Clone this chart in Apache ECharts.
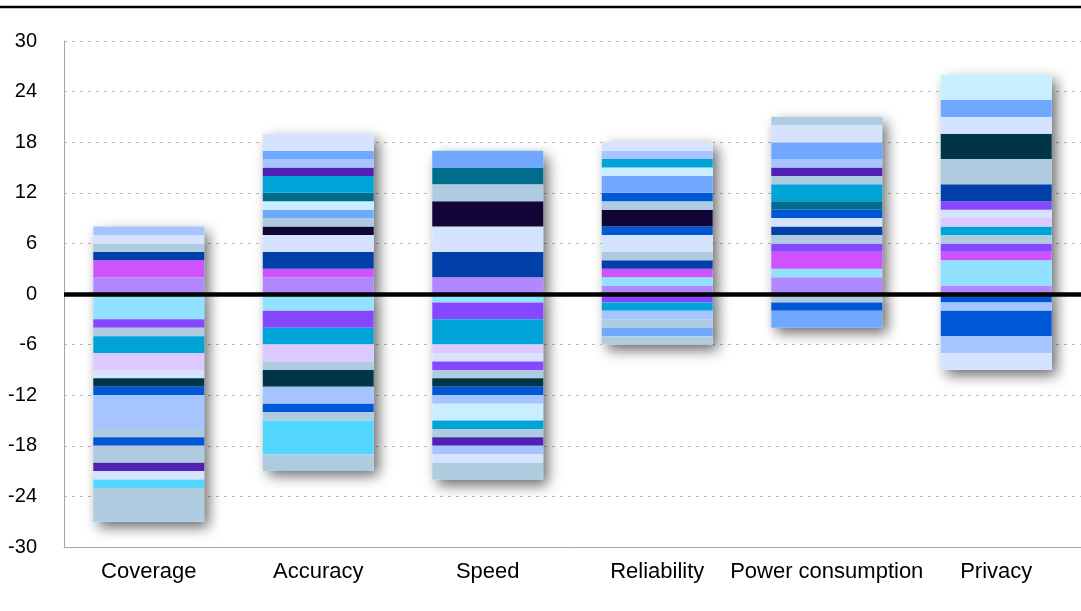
<!DOCTYPE html>
<html>
<head>
<meta charset="utf-8">
<title>Stacked contributions by attribute</title>
<script src="https://cdn.jsdelivr.net/npm/echarts@6/dist/echarts.min.js"></script>
<style>
  html, body { margin: 0; padding: 0; background: #ffffff; }
  #chart { width: 1081px; height: 611px; }
</style>
</head>
<body>
<div id="chart"></div>
<script>
// Attributes along the horizontal axis
const categories = ['Coverage', 'Accuracy', 'Speed', 'Reliability', 'Power consumption', 'Privacy'];

// Value-axis ticks
const yMin = -30;
const yMax = 30;
const yStep = 6;

// Segments above zero, one row per stacked series (from the axis outward),
// values per attribute in the order of `categories`
const upValues = [
  [2, 2, 2, 1, 2, 1],
  [0, 0, 0, 1, 1, 3],
  [2, 1, 0, 1, 2, 1],
  [0, 0, 0, 0, 1, 1],
  [0, 0, 0, 0, 1, 1],
  [1, 2, 3, 1, 1, 0],
  [1, 0, 0, 1, 0, 0],
  [1, 2, 3, 2, 1, 0],
  [0, 0, 0, 1, 1, 0],
  [0, 1, 3, 2, 0, 0],
  [0, 1, 2, 1, 0, 0],
  [0, 0, 0, 1, 0, 0],
  [0, 1, 0, 2, 0, 0],
  [0, 1, 0, 1, 0, 0],
  [0, 1, 2, 0, 1, 0],
  [0, 2, 0, 1, 2, 1],
  [0, 0, 0, 0, 0, 1],
  [0, 0, 0, 0, 0, 1],
  [0, 0, 0, 0, 0, 1],
  [0, 0, 0, 0, 0, 2],
  [0, 0, 0, 0, 1, 3],
  [0, 1, 0, 0, 1, 0],
  [1, 1, 0, 1, 1, 0],
  [0, 1, 2, 0, 2, 0],
  [0, 0, 0, 0, 0, 3],
  [0, 2, 0, 1, 2, 2],
  [0, 0, 0, 0, 1, 0],
  [0, 0, 0, 0, 0, 2],
  [0, 0, 0, 0, 0, 3]
];

// Segments below zero, one row per stacked series (from the axis outward)
const downValues = [
  [-3, -2, -1, 0, 0, 0],
  [-1, -2, -2, -1, 0, 0],
  [-1, 0, 0, 0, -1, 0],
  [-2, -2, -3, -1, 0, 0],
  [-2, -2, -1, 0, 0, 0],
  [-1, 0, -1, 0, 0, 0],
  [0, 0, -1, 0, 0, 0],
  [0, -1, -1, 0, 0, 0],
  [-1, -2, -1, 0, 0, 0],
  [-1, 0, -1, 0, -1, -1],
  [-4, -2, -1, -1, 0, -1],
  [0, 0, -2, 0, 0, 0],
  [0, 0, -1, 0, 0, 0],
  [-1, 0, -1, -1, 0, 0],
  [0, 0, 0, -1, -2, 0],
  [-1, -1, 0, 0, 0, -3],
  [-2, -1, 0, -1, 0, 0],
  [-1, 0, -1, 0, 0, 0],
  [0, 0, -1, 0, 0, -2],
  [-1, 0, -1, 0, 0, -2],
  [-1, -4, 0, 0, 0, 0],
  [-4, -2, -2, 0, 0, 0]
];

// Colour palette
const tone = {
  lilac: '#B088FF',
  magenta: '#D052FF',
  royal: '#0040A8',
  mist: '#D5E3FF',
  ink: '#120538',
  steel: '#AECBE0',
  cornflower: '#70A7FF',
  ice: '#C9EEFF',
  teal: '#006D8F',
  cyan: '#00A3D8',
  indigo: '#5021B2',
  periwinkle: '#A6C4FF',
  sky: '#91E2FF',
  violet: '#8548FF',
  lavender: '#DCC9FF',
  deepTeal: '#003447',
  blue: '#0057D6',
  aqua: '#52D5FF'
};

const upColors = [
  tone.lilac, tone.sky, tone.magenta, tone.violet, tone.steel, tone.royal,
  tone.steel, tone.mist, tone.blue, tone.ink, tone.steel, tone.blue,
  tone.cornflower, tone.ice, tone.teal, tone.cyan, tone.lavender, tone.mist,
  tone.violet, tone.royal, tone.steel, tone.indigo, tone.periwinkle, tone.cornflower,
  tone.deepTeal, tone.mist, tone.steel, tone.cornflower, tone.ice
];

const downColors = [
  tone.sky, tone.violet, tone.steel, tone.cyan, tone.lavender, tone.mist,
  tone.violet, tone.steel, tone.deepTeal, tone.blue, tone.periwinkle, tone.ice,
  tone.cyan, tone.steel, tone.cornflower, tone.blue, tone.steel, tone.indigo,
  tone.periwinkle, tone.mist, tone.aqua, tone.steel
];

const BAR_WIDTH = 111;
const FONT = '"Liberation Sans", Arial, Helvetica, sans-serif';

// Column totals for the shadowed backing of each bar
const sumColumns = rows => categories.map((_, i) => rows.reduce((s, r) => s + r[i], 0));
const upTotals = sumColumns(upValues);
const downTotals = sumColumns(downValues);

const shadowStyle = {
  color: '#ffffff',
  shadowBlur: 13,
  shadowOffsetX: 5,
  shadowOffsetY: 5,
  shadowColor: 'rgba(0, 0, 0, 0.6)'
};

const series = [];

// Backing bars that cast the drop shadow
[upTotals, downTotals].forEach(totals => {
  series.push({
    type: 'bar',
    stack: 'shade',
    z: 1,
    barWidth: BAR_WIDTH,
    barGap: '-100%',
    silent: true,
    itemStyle: shadowStyle,
    data: totals
  });
});

// Coloured segments
function addSegments(rows, colors) {
  rows.forEach((row, k) => {
    series.push({
      type: 'bar',
      stack: 'segments',
      stackStrategy: 'samesign',
      z: 2,
      barWidth: BAR_WIDTH,
      barGap: '-100%',
      itemStyle: { color: colors[k] },
      data: row.map(v => (v === 0 ? '-' : v))
    });
  });
}
addSegments(upValues, upColors);
addSegments(downValues, downColors);

// Heavy zero baseline
series.push({
  type: 'line',
  z: 5,
  silent: true,
  symbol: 'none',
  data: categories.map(() => '-'),
  markLine: {
    silent: true,
    symbol: 'none',
    label: { show: false },
    lineStyle: { color: '#000000', width: 4.5, type: 'solid' },
    data: [{ yAxis: 0 }]
  }
});

const chart = echarts.init(document.getElementById('chart'), null, { renderer: 'canvas' });
chart.setOption({
  animation: false,
  backgroundColor: '#ffffff',
  grid: { left: 64, right: -8, top: 41, bottom: 64, containLabel: false },
  graphic: [{
    type: 'line',
    shape: { x1: 0, y1: 7, x2: 1081, y2: 7 },
    style: { stroke: '#000000', lineWidth: 2.5 },
    z: 10
  }],
  xAxis: {
    type: 'category',
    data: categories,
    position: 'bottom',
    axisLine: { onZero: false, lineStyle: { color: '#a6a6a6', width: 1 } },
    axisTick: { show: false },
    axisLabel: { color: '#000000', fontSize: 22, fontFamily: FONT, margin: 14, interval: 0 },
    splitLine: { show: false }
  },
  yAxis: {
    type: 'value',
    min: yMin,
    max: yMax,
    interval: yStep,
    axisLine: { show: true, lineStyle: { color: '#a6a6a6', width: 1 } },
    axisTick: { show: false },
    axisLabel: { color: '#000000', fontSize: 20, fontFamily: FONT, margin: 27 },
    splitLine: { show: true, lineStyle: { color: '#b8b8b8', width: 1, type: [3, 5] } }
  },
  series: series
});
</script>
</body>
</html>
